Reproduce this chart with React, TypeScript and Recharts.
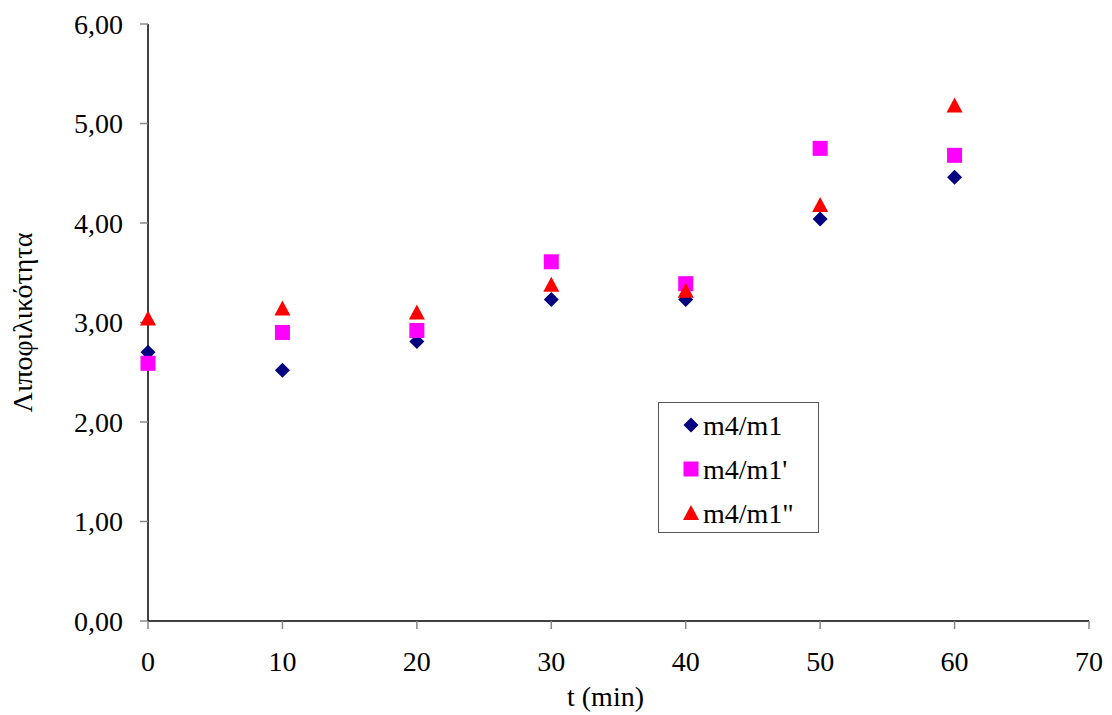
import { ScatterChart, Scatter, XAxis, YAxis, Label } from 'recharts';

// t (min) sampling points
const times = [0, 10, 20, 30, 40, 50, 60];
const ratioM1 = [2.7, 2.52, 2.81, 3.23, 3.23, 4.04, 4.46];
const ratioM1p = [2.59, 2.9, 2.92, 3.61, 3.39, 4.75, 4.68];
const ratioM1pp = [3.04, 3.14, 3.1, 3.38, 3.32, 4.18, 5.18];
const xTicks = [0, 10, 20, 30, 40, 50, 60, 70];
const yTicks = [0, 1, 2, 3, 4, 5, 6];

const toPoints = (vals: number[]) => times.map((t, i) => ({ t, v: vals[i] }));

const FONT = '"Liberation Serif", "Times New Roman", serif';
const FS = 28;
const NAVY = '#000080';
const MAGENTA = '#ff00ff';
const RED = '#ff0000';

const Diamond = ({ cx, cy, fill = NAVY }: any) => (
  <polygon points={`${cx},${cy - 7.5} ${cx + 7.5},${cy} ${cx},${cy + 7.5} ${cx - 7.5},${cy}`} fill={fill} />
);
const Square = ({ cx, cy, fill = MAGENTA }: any) => (
  <rect x={cx - 7.5} y={cy - 7.5} width={15} height={15} fill={fill} />
);
const Triangle = ({ cx, cy, fill = RED }: any) => (
  <polygon points={`${cx},${cy - 8} ${cx + 8},${cy + 7} ${cx - 8},${cy + 7}`} fill={fill} />
);

const legendItems = [
  { name: 'm4/m1', Shape: Diamond },
  { name: "m4/m1'", Shape: Square },
  { name: 'm4/m1"', Shape: Triangle },
];

function LegendBox() {
  return (
    <div
      style={{
        position: 'absolute',
        left: 658,
        top: 402,
        width: 159,
        height: 129,
        border: '1px solid #555',
        background: '#fff',
        fontFamily: FONT,
        fontSize: FS,
        lineHeight: '28px',
        color: '#000',
        paddingTop: 0,
      }}
    >
      {legendItems.map(({ name, Shape }) => (
        <div key={name} style={{ display: 'flex', alignItems: 'center', height: 44 }}>
          <svg width={44} height={20}>
            <Shape cx={32} cy={10} />
          </svg>
          <span style={{ marginTop: 1 }}>{name}</span>
        </div>
      ))}
    </div>
  );
}

const tickStyle = { fontSize: FS, fill: '#000', fontFamily: FONT };
const labelStyle = { fontSize: FS, fill: '#000', fontFamily: FONT };

export default function App() {
  return (
    <div
      style={{
        position: 'fixed',
        left: 0,
        top: 0,
        width: 1112,
        height: 715,
        background: '#fff',
        fontFamily: FONT,
        fontSize: FS,
      }}
    >
      <ScatterChart width={1112} height={715} margin={{ top: 24, right: 23, bottom: 0, left: 0 }}>
        <XAxis
          type="number"
          dataKey="t"
          domain={[0, 70]}
          ticks={xTicks}
          height={94}
          tick={tickStyle}
          fontSize={FS}
          tickSize={8}
          tickMargin={22}
          axisLine={{ stroke: '#000', strokeWidth: 1.5 }}
          tickLine={{ stroke: '#888', strokeWidth: 1.5 }}
        >
          <Label value="t (min)" position="insideBottom" offset={9} dx={-13} fontSize={FS} style={labelStyle} />
        </XAxis>
        <YAxis
          type="number"
          dataKey="v"
          domain={[0, 6]}
          ticks={yTicks}
          width={148}
          tick={tickStyle}
          fontSize={FS}
          tickFormatter={(v: number) => v.toFixed(2).replace('.', ',')}
          tickSize={8}
          tickMargin={17}
          axisLine={{ stroke: '#000', strokeWidth: 1.5 }}
          tickLine={{ stroke: '#888', strokeWidth: 1.5 }}
        >
          <Label
            value="Λιποφιλικότητα"
            angle={-90}
            position="insideLeft"
            offset={22}
            fontSize={FS}
            style={{ ...labelStyle, textAnchor: 'middle' }}
          />
        </YAxis>
        <Scatter name="m4/m1" data={toPoints(ratioM1)} fill={NAVY} shape={<Diamond />} isAnimationActive={false} />
        <Scatter name="m4/m1'" data={toPoints(ratioM1p)} fill={MAGENTA} shape={<Square />} isAnimationActive={false} />
        <Scatter name='m4/m1"' data={toPoints(ratioM1pp)} fill={RED} shape={<Triangle />} isAnimationActive={false} />
      </ScatterChart>
      <LegendBox />
    </div>
  );
}
